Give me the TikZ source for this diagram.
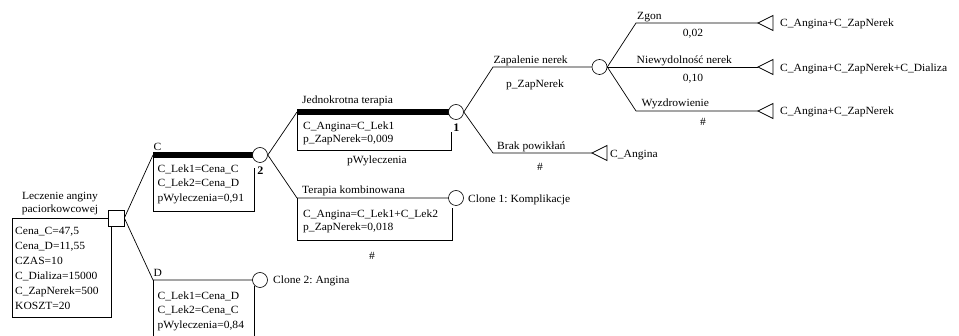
\documentclass[tikz,border=0pt]{standalone}
\usepackage{fontspec}
\setmainfont{Liberation Serif}[FakeStretch=1.05]
\frenchspacing
\usetikzlibrary{backgrounds}
\tikzset{
  lbl/.style={inner sep=0pt, anchor=base west, font=\fontsize{11}{13}\selectfont},
  clbl/.style={lbl, anchor=base},
  numlbl/.style={inner sep=0pt, anchor=base, font=\fontsize{11.5}{13}\selectfont\bfseries},
  chance/.style={circle, draw, fill=white, minimum size=15pt, inner sep=0pt, line width=0.6pt},
  decision/.style={rectangle, draw, fill=white, minimum size=16pt, inner sep=0pt, line width=0.7pt},
  edge/.style={line width=0.7pt},
  optimal/.style={line width=5.5pt},
  term/.style={draw, fill=white, line width=0.7pt, line join=miter},
}
\begin{document}
\begin{tikzpicture}[x=1pt, y=-1pt]
\useasboundingbox (0,0) rectangle (959,336);

% ---- decision node and its variable box
\node[decision] (root) at (116,218) {};
\node[clbl] (rootA) at (60,199.5) {Leczenie anginy};
\node[clbl] (rootB) at (60,212.5) {paciorkowcowej};
\node[lbl] (rv1) at (15,235) {Cena\_C=47,5};
\node[lbl] (rv2) at (15,250) {Cena\_D=11,55};
\node[lbl] (rv3) at (15,265) {CZAS=10};
\node[lbl] (rv4) at (15,280) {C\_Dializa=15000};
\node[lbl] (rv5) at (15,295) {C\_ZapNerek=500};
\node[lbl] (rv6) at (15,310) {KOSZT=20};

% ---- branch points
\coordinate (cStart) at (153,155);
\coordinate (dStart) at (153,280);
\node[chance] (c2) at (260,155) {};
\node[chance] (dClone) at (260,280) {};
\coordinate (jedStart) at (297,112);
\coordinate (kombStart) at (297,198);
\node[chance] (c1) at (456,112) {};
\node[chance] (kClone) at (456,198) {};
\coordinate (zapStart) at (493,67);
\coordinate (brakStart) at (493,153);
\node[chance] (c3) at (599.5,67) {};
\coordinate (tBrak) at (592,153);
\coordinate (zgonStart) at (636,23);
\coordinate (wyzdStart) at (636,111);
\coordinate (tZgon) at (758,23);
\coordinate (tNiew) at (758,67);
\coordinate (tWyzd) at (758,111);

% ---- terminal nodes
\draw[term] (tBrak) -- ++(15,-7.5) -- ++(0,15) -- cycle;
\draw[term] (tZgon) -- ++(15,-7.5) -- ++(0,15) -- cycle;
\draw[term] (tNiew) -- ++(15,-7.5) -- ++(0,15) -- cycle;
\draw[term] (tWyzd) -- ++(15,-7.5) -- ++(0,15) -- cycle;

% ---- branch C
\node[lbl] (labC) at (153.5,151) {C};
\node[lbl] (cv1) at (157.5,172.5) {C\_Lek1=Cena\_C};
\node[lbl] (cv2) at (157.5,187) {C\_Lek2=Cena\_D};
\node[lbl] (cv3) at (157.5,201.5) {pWyleczenia=0,91};
\node[numlbl] (num2) at (260.5,175) {2};

% ---- branch D
\node[lbl] (labD) at (153.5,277) {D};
\node[lbl] (dv1) at (157.5,299.5) {C\_Lek1=Cena\_D};
\node[lbl] (dv2) at (157.5,314) {C\_Lek2=Cena\_C};
\node[lbl] (dv3) at (157.5,328.5) {pWyleczenia=0,84};
\node[lbl] (clone2) at (273,284) {Clone 2: Angina};

% ---- single therapy
\node[lbl] (labJed) at (302,104) {Jednokrotna terapia};
\node[lbl] (jv1) at (303,129.5) {C\_Angina=C\_Lek1};
\node[lbl] (jv2) at (303,142.5) {p\_ZapNerek=0,009};
\node[clbl] (pJed) at (377,164) {pWyleczenia};
\node[numlbl] (num1) at (456.5,132) {1};

% ---- combined therapy
\node[lbl] (labKomb) at (302,194) {Terapia kombinowana};
\node[lbl] (kv1) at (303,218) {C\_Angina=C\_Lek1+C\_Lek2};
\node[lbl] (kv2) at (303,230.5) {p\_ZapNerek=0,018};
\node[clbl] (pKomb) at (372,259.5) {\#};
\node[lbl] (clone1) at (468,202.5) {Clone 1: Komplikacje};

% ---- complications
\node[lbl] (labZap) at (493.5,64) {Zapalenie nerek};
\node[clbl] (pZap) at (535,88) {p\_ZapNerek};
\node[lbl] (labBrak) at (497,150) {Brak powikłań};
\node[clbl] (pBrak) at (540,171) {\#};
\node[lbl] (payBrak) at (610,158) {C\_Angina};

% ---- kidney outcomes
\node[lbl] (labZgon) at (637,20) {Zgon};
\node[clbl] (pZgon) at (693,37) {0,02};
\node[lbl] (labNiew) at (636.5,63.5) {Niewydolność nerek};
\node[clbl] (pNiew) at (693,82) {0,10};
\node[lbl] (labWyzd) at (641.5,106.5) {Wyzdrowienie};
\node[clbl] (pWyzd) at (703,126) {\#};
\node[lbl] (payZgon) at (780,27) {C\_Angina+C\_ZapNerek};
\node[lbl] (payNiew) at (780,71.5) {C\_Angina+C\_ZapNerek+C\_Dializa};
\node[lbl] (payWyzd) at (780,115) {C\_Angina+C\_ZapNerek};

\begin{pgfonlayer}{background}
  % connectors
  \draw[edge] (root.east) -- (cStart);
  \draw[edge] (root.east) -- (dStart) -- (dClone.center);
  \draw[optimal] (cStart) -- (c2.center);
  \draw[edge] (c2.east) -- (jedStart);
  \draw[edge] (c2.east) -- (kombStart) -- (kClone.center);
  \draw[optimal] (jedStart) -- (c1.center);
  \draw[edge] (c1.east) -- (zapStart) -- (c3.center);
  \draw[edge] (c1.east) -- (brakStart) -- (tBrak);
  \draw[edge] (c3.east) -- (zgonStart) -- (tZgon);
  \draw[edge] (c3.east) -- (tNiew);
  \draw[edge] (c3.east) -- (wyzdStart) -- (tWyzd);
  % variable boxes
  \draw[edge] (12,218) rectangle (111,317);
  \draw[edge] (153,155) -- (153,211) -- (254,211) -- (254,168);
  \draw[edge] (153,280) -- (153,337);
  \draw[edge] (254,286) -- (254,337);
  \draw[edge] (297,112) -- (297,150) -- (451,150) -- (451,132);
  \draw[edge] (297,198) -- (297,240) -- (452,240) -- (452,208);
\end{pgfonlayer}
\end{tikzpicture}
\end{document}
